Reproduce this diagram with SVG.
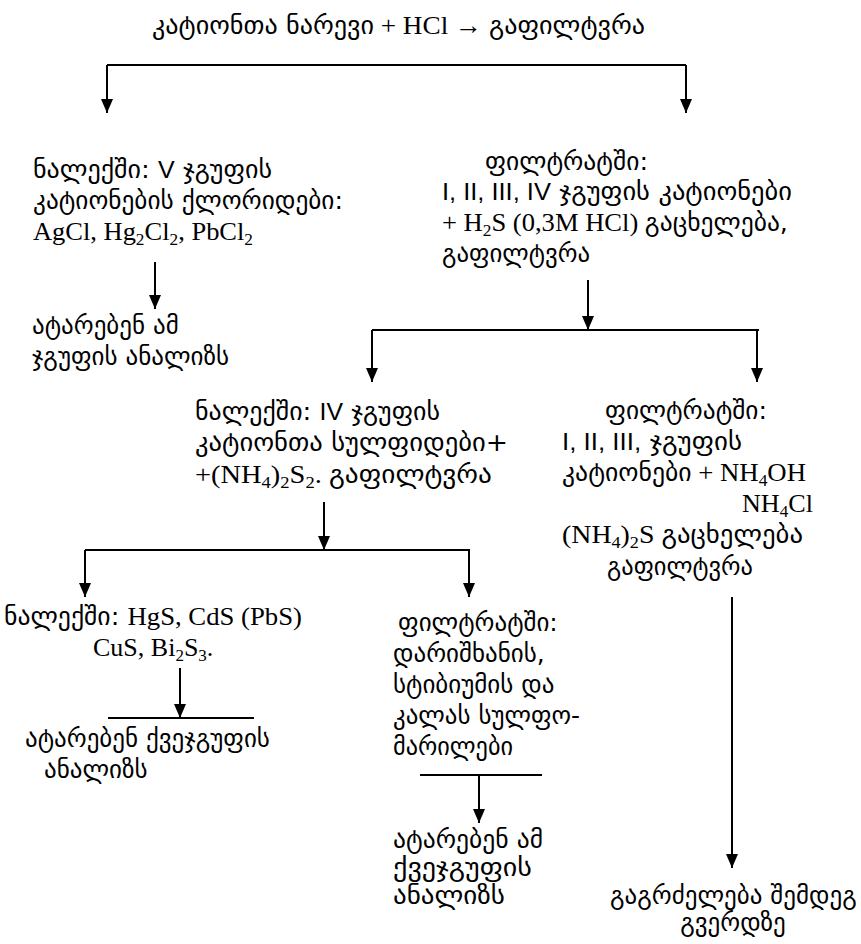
<svg xmlns="http://www.w3.org/2000/svg" width="861" height="944" viewBox="0 0 861 944">
<style>
text{font-family:"Liberation Serif","DejaVu Sans",serif;font-size:26px;fill:#000}
.ka{font-family:"DejaVu Sans",sans-serif;font-size:25px}
.rn{font-family:"Liberation Sans",sans-serif;font-size:24px}
.sub{font-size:17px}
.ln{stroke:#000;stroke-width:2;fill:none}
</style>
<defs>
<marker id="ah" viewBox="0 0 14 12" refX="14" refY="6" markerWidth="14" markerHeight="12" markerUnits="userSpaceOnUse" orient="auto">
<path d="M0,0 L14,6 L0,12 Z" fill="#000"/>
</marker>
</defs>
<g id="connectors">
<line class="ln" x1="107" y1="65" x2="686" y2="65"/>
<line class="ln" x1="107" y1="65" x2="107" y2="113" marker-end="url(#ah)"/>
<line class="ln" x1="686" y1="65" x2="686" y2="113" marker-end="url(#ah)"/>
<line class="ln" x1="155" y1="262" x2="155" y2="309" marker-end="url(#ah)"/>
<line class="ln" x1="588" y1="280" x2="588" y2="330" marker-end="url(#ah)"/>
<line class="ln" x1="372" y1="330" x2="759" y2="330"/>
<line class="ln" x1="372" y1="330" x2="372" y2="382" marker-end="url(#ah)"/>
<line class="ln" x1="757" y1="330" x2="757" y2="382" marker-end="url(#ah)"/>
<line class="ln" x1="324" y1="502" x2="324" y2="550" marker-end="url(#ah)"/>
<line class="ln" x1="85" y1="550" x2="470" y2="550"/>
<line class="ln" x1="85" y1="550" x2="85" y2="597" marker-end="url(#ah)"/>
<line class="ln" x1="469" y1="550" x2="469" y2="597" marker-end="url(#ah)"/>
<line class="ln" x1="180" y1="668" x2="180" y2="718" marker-end="url(#ah)"/>
<line class="ln" x1="108" y1="718" x2="254" y2="718"/>
<line class="ln" x1="420" y1="775" x2="542" y2="775"/>
<line class="ln" x1="479" y1="775" x2="479" y2="823" marker-end="url(#ah)"/>
<line class="ln" x1="732" y1="597" x2="732" y2="868" marker-end="url(#ah)"/>
</g>
<g id="title">
<text x="152" y="34" textLength="493" lengthAdjust="spacingAndGlyphs"><tspan class="ka">კატიონთა ნარევი</tspan> + HCl → <tspan class="ka">გაფილტვრა</tspan></text>
</g>
<g id="n-left">
<text x="33" y="178" textLength="239" lengthAdjust="spacingAndGlyphs"><tspan class="ka">ნალექში: </tspan><tspan class="rn">V</tspan><tspan class="ka"> ჯგუფის</tspan></text>
<text x="33" y="209" class="ka" textLength="310" lengthAdjust="spacingAndGlyphs">კატიონების ქლორიდები:</text>
<text x="33" y="240" textLength="220" lengthAdjust="spacingAndGlyphs">AgCl, Hg<tspan class="sub" dy="5">2</tspan><tspan dy="-5">Cl</tspan><tspan class="sub" dy="5">2</tspan><tspan dy="-5">, PbCl</tspan><tspan class="sub" dy="5">2</tspan></text>
</g>
<g id="n-left-analysis">
<text x="32" y="334" class="ka">ატარებენ ამ</text>
<text x="32" y="365" class="ka">ჯგუფის ანალიზს</text>
</g>
<g id="n-right">
<text x="485" y="170" class="ka" textLength="163" lengthAdjust="spacingAndGlyphs">ფილტრატში:</text>
<text x="442" y="200" textLength="350" lengthAdjust="spacingAndGlyphs"><tspan class="rn">I, II, III, IV</tspan><tspan class="ka"> ჯგუფის კატიონები</tspan></text>
<text x="442" y="231" textLength="346" lengthAdjust="spacingAndGlyphs">+ H<tspan class="sub" dy="5">2</tspan><tspan dy="-5">S (0,3M HCl) </tspan><tspan class="ka">გაცხელება,</tspan></text>
<text x="442" y="262" class="ka" textLength="148" lengthAdjust="spacingAndGlyphs">გაფილტვრა</text>
</g>
<g id="n-mid">
<text x="195" y="420" textLength="245" lengthAdjust="spacingAndGlyphs"><tspan class="ka">ნალექში: </tspan><tspan class="rn">IV</tspan><tspan class="ka"> ჯგუფის</tspan></text>
<text x="195" y="451" class="ka" textLength="313" lengthAdjust="spacingAndGlyphs">კატიონთა სულფიდები+</text>
<text x="195" y="483" textLength="297" lengthAdjust="spacingAndGlyphs">+(NH<tspan class="sub" dy="5">4</tspan><tspan dy="-5">)</tspan><tspan class="sub" dy="5">2</tspan><tspan dy="-5">S</tspan><tspan class="sub" dy="5">2</tspan><tspan dy="-5">. </tspan><tspan class="ka">გაფილტვრა</tspan></text>
</g>
<g id="n-right2">
<text x="605" y="419" class="ka" textLength="162" lengthAdjust="spacingAndGlyphs">ფილტრატში:</text>
<text x="562" y="450" textLength="180" lengthAdjust="spacingAndGlyphs"><tspan class="rn">I, II, III,</tspan><tspan class="ka"> ჯგუფის</tspan></text>
<text x="562" y="481" textLength="244" lengthAdjust="spacingAndGlyphs"><tspan class="ka">კატიონები</tspan> + NH<tspan class="sub" dy="5">4</tspan><tspan dy="-5">OH</tspan></text>
<text x="742" y="512" textLength="71" lengthAdjust="spacingAndGlyphs">NH<tspan class="sub" dy="5">4</tspan><tspan dy="-5">Cl</tspan></text>
<text x="562" y="543" textLength="241" lengthAdjust="spacingAndGlyphs">(NH<tspan class="sub" dy="5">4</tspan><tspan dy="-5">)</tspan><tspan class="sub" dy="5">2</tspan><tspan dy="-5">S  </tspan><tspan class="ka">გაცხელება</tspan></text>
<text x="607" y="575" class="ka" textLength="146" lengthAdjust="spacingAndGlyphs">გაფილტვრა</text>
</g>
<g id="n-bl">
<text x="4" y="625" textLength="298" lengthAdjust="spacingAndGlyphs"><tspan class="ka">ნალექში: </tspan>HgS, CdS (PbS)</text>
<text x="93" y="656">CuS, Bi<tspan class="sub" dy="5">2</tspan><tspan dy="-5">S</tspan><tspan class="sub" dy="5">3</tspan><tspan dy="-5">.</tspan></text>
</g>
<g id="n-bl-analysis">
<text x="25" y="747" class="ka">ატარებენ ქვეჯგუფის</text>
<text x="44" y="778" class="ka">ანალიზს</text>
</g>
<g id="n-bm">
<text x="398" y="631" class="ka">ფილტრატში:</text>
<text x="393" y="662" class="ka">დარიშხანის,</text>
<text x="393" y="693" class="ka">სტიბიუმის და</text>
<text x="393" y="724" class="ka" textLength="187" lengthAdjust="spacingAndGlyphs">კალას სულფო-</text>
<text x="393" y="755" class="ka" textLength="120" lengthAdjust="spacingAndGlyphs">მარილები</text>
</g>
<g id="n-bm-analysis">
<text x="393" y="848" class="ka" textLength="150" lengthAdjust="spacingAndGlyphs">ატარებენ ამ</text>
<text x="393" y="876" class="ka" textLength="139" lengthAdjust="spacingAndGlyphs">ქვეჯგუფის</text>
<text x="393" y="904" class="ka" textLength="112" lengthAdjust="spacingAndGlyphs">ანალიზს</text>
</g>
<g id="n-next">
<text x="610" y="904" class="ka">გაგრძელება შემდეგ</text>
<text x="733" y="931" text-anchor="middle" class="ka">გვერდზე</text>
</g>
</svg>
